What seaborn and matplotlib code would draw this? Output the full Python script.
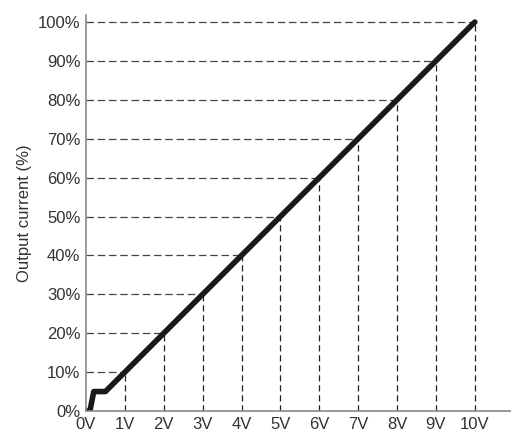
import matplotlib
matplotlib.use("Agg")
import matplotlib.pyplot as plt
import seaborn as sns
import pandas as pd

# control curve (input voltage -> output current)
volts = [0, 0.1, 0.2, 0.5, 10]
current = [0, 0, 5, 5, 100]
tick_v = list(range(11))
tick_pct = list(range(0, 101, 10))

sns.set_theme(style="white")
plt.rcParams['font.family'] = ['Liberation Sans Narrow', 'Liberation Sans', 'DejaVu Sans']

fig = plt.figure(figsize=(5.11, 4.45), dpi=100)
ax = fig.add_axes([86 / 511, 34 / 445, 425 / 511, 396 / 445])

# dashed guide lines
for p in tick_pct[1:]:
    v = 0.5 + (p - 5) / 10
    ax.plot([0, v], [p, p], color="#444444", lw=0.9, ls=(0, (6, 3)))
for v in tick_v[1:]:
    p = 5 + (v - 0.5) * 10
    ax.plot([v, v], [0, p], color="#222222", lw=0.9, ls=(0, (5, 3)))

df = pd.DataFrame({"v": volts, "c": current})
sns.lineplot(data=df, x="v", y="c", ax=ax, color="#1a1a1a", lw=4, sort=False)

ax.set_xlim(0, 10.93)
ax.set_ylim(0, 101.8)
ax.set_xticks(tick_v)
ax.set_xticklabels([f"{v}V" for v in tick_v])
ax.set_yticks(tick_pct)
ax.set_yticklabels([f"{p}%" for p in tick_pct])
ax.tick_params(labelsize=12, colors="#333333", length=0, pad=4)
ax.set_xlabel("")
ax.set_ylabel("Output current (%)", fontsize=12, color="#333333")
for s in ["top", "right"]:
    ax.spines[s].set_visible(False)
for s in ["left", "bottom"]:
    ax.spines[s].set_color("#888888")
    ax.spines[s].set_linewidth(1.2)

fig.savefig("out.png", dpi=100)
